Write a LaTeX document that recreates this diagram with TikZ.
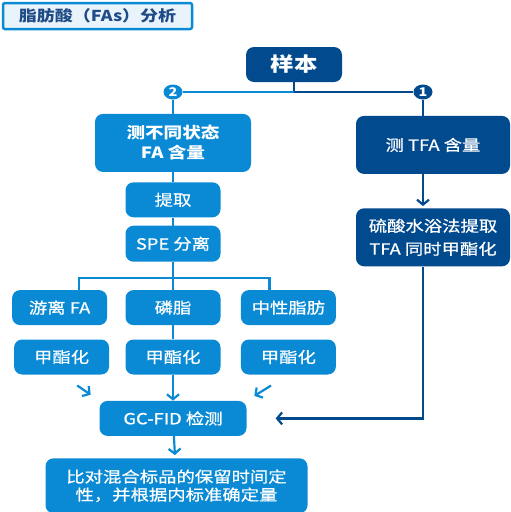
\documentclass[tikz,border=0pt]{standalone}
\usepackage{fontspec}
\setmainfont{Noto Sans CJK SC}[FakeStretch=1.2, UprightFeatures={FakeBold=0.7}]
\usepackage{xcolor}
\usetikzlibrary{positioning,arrows.meta,backgrounds,calc,shapes.geometric}
\definecolor{cazul}{HTML}{0A8AD5}
\definecolor{cazulosc}{HTML}{024A8E}
\definecolor{cfondo}{HTML}{E9F3FB}
\definecolor{ctitulo}{HTML}{1F4B86}
\tikzset{
  caja/.style={rectangle, rounded corners=8pt, fill=cazul, text=white,
    align=center, minimum width=95pt, minimum height=35pt, inner sep=2pt,
    font=\fontsize{15.3}{18}\selectfont},
  cajaosc/.style={caja, fill=cazulosc},
  num/.style={ellipse, inner sep=0pt, minimum width=19pt, minimum height=15pt,
    text=white, font=\fontsize{12}{12}\selectfont\bfseries},
  linea/.style={line width=2.2pt, draw=cazul},
  lineaosc/.style={line width=2.2pt, draw=cazulosc},
  flecha/.style={linea, -{Straight Barb[length=5pt,width=12pt]}},
  flechaosc/.style={lineaosc, -{Straight Barb[length=5pt,width=12pt]}},
}

\begin{document}
\begin{tikzpicture}[x=1pt, y=1pt]
  \useasboundingbox (0,0) rectangle (511,-512);
  \node[draw=cazul, line width=2.5pt, rounded corners=2pt, fill=cfondo, text=ctitulo,
    minimum width=189pt, minimum height=26pt, inner sep=1pt,
    font=\fontsize{15}{15}\selectfont\bfseries]
    (titulo) at (97.5,-16) {脂肪酸（FAs）分析};
  \node[cajaosc, minimum width=96pt, font=\fontsize{19.5}{19.5}\selectfont\bfseries]
    (muestra) at (294,-64.5) {样本};
  \node[num, fill=cazul] (n2) at (173,-92) {2};
  \node[num, fill=cazulosc] (n1) at (423,-92) {1};
  % rama izquierda
  \node[caja, minimum width=156pt, minimum height=58pt, below=14pt of n2,
    font=\fontsize{15.5}{20}\selectfont\bfseries] (medir) {测不同状态\\FA 含量};
  \node[caja, below=10pt of medir] (extr) {提取};
  \node[caja, minimum height=36pt, below=8pt of extr] (spe) {SPE 分离};
  \node[caja, below=28pt of spe] (fosf) {磷脂};
  \node[caja, left=18pt of fosf] (libre) {游离 FA};
  \node[caja, right=20pt of fosf] (neutro) {中性脂肪};
  \node[caja, below=14pt of libre, xshift=2pt] (metA) {甲酯化};
  \node[caja, below=14pt of fosf] (metB) {甲酯化};
  \node[caja, below=14pt of neutro] (metC) {甲酯化};
  \node[caja, minimum width=147pt, below=26pt of metB] (gc) {GC-FID 检测};
  \node[caja, minimum width=262pt, minimum height=55pt, below=22pt of gc, xshift=3.5pt]
    (final) {比对混合标品的保留时间定\\性，并根据内标准确定量};
  % rama derecha
  \node[cajaosc, minimum width=154pt, minimum height=58pt, below=16pt of n1, xshift=10pt]
    (tfa) {测 TFA 含量};
  \node[cajaosc, minimum width=154pt, minimum height=58pt, below=34pt of tfa,
    font=\fontsize{15.3}{23}\selectfont] (sulf) {硫酸水浴法提取\\TFA 同时甲酯化};
  \begin{scope}[on background layer]
    \draw[lineaosc] (muestra.south) |- (n1);
    \draw[linea] (muestra.south |- n2) -- (n2);
    \draw[linea] (n2) -- (medir);
    \draw[linea] (medir) -- (extr);
    \draw[linea] (extr) -- (spe);
    \draw[linea] (spe) -- (fosf);
    \draw[linea] ($(libre.north)+(19.5,0)$) |- ($(neutro.north)+(-19,12)$)
      -- ($(neutro.north)+(-19,0)$);
    \draw[linea] (fosf) -- (metB);
    \draw[flecha] (metB) -- (gc);
    \draw[flecha, shorten <=19pt, shorten >=10.5pt] (metA.south) -- (gc.north west);
    \draw[flecha, shorten <=20.5pt, shorten >=9pt] (metC.south) -- (gc.north east);
    \draw[flecha, shorten >=3pt] (gc) -- (final);
    \draw[lineaosc] (n1) -- (n1 |- tfa.north);
    \draw[flechaosc, shorten >=2pt] (n1 |- tfa.south) -- (n1 |- sulf.north);
    \draw[flechaosc, shorten >=29pt] (n1 |- sulf.south) |- (gc.east);
  \end{scope}
\end{tikzpicture}
\end{document}
